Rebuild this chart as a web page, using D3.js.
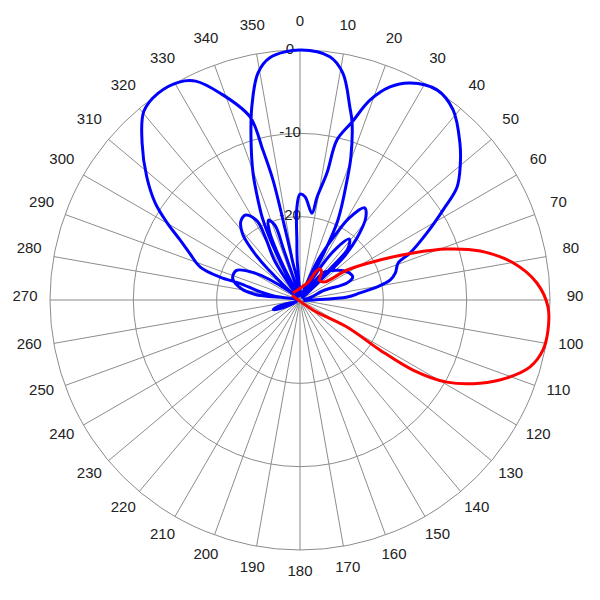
<!DOCTYPE html>
<html><head><meta charset="utf-8">
<script src="https://cdn.jsdelivr.net/npm/d3@7"></script>
<style>html,body{margin:0;padding:0;background:#fff;}</style>
</head><body>
<svg id="c" width="600" height="600"></svg>
<script>
const angleTicks = [0,10,20,30,40,50,60,70,80,90,100,110,120,130,140,150,160,170,
  180,190,200,210,220,230,240,250,260,270,280,290,300,310,320,330,340,350];
const ringTicks = [0,-10,-20];

// blue trace (angle deg clockwise from top, level dB), in drawing order
const blueAngle = [240,254,250,246,262,
  277,281,288,295,300,304,300,
  278,282,285.5,286,288.3,293,296.6,300.1,303.8,308.8,314.8,320.4,325.5,331,334.5,338.9,344.7,346.1,347.3,348,349,345,
  314,316.5,319,323,327.5,331.5,331,327,335,
  334,336,338.5,341.5,342,343,
  333,335.2,337.2,339.7,343,346,349.5,352.9,0,7,10.7,14.5,16.3,19.6,21.4,25.4,27,20,
  24,28,31,35,38.5,42.6,45.7,46,38,
  32,35,39,43,44,50,
  40.4,52,59.2,66.5,70.1,68,70,
  356,357,358,0,2.8,7.85,9.4,12,13,16.3,19.3,22.9,26.9,33.1,38.8,45.5,50,54.3,57.8,62.2,66.9,69.3,74.1,77.5,80.4,83.3,86.3,90,100];
const blueDb = [-29.6,-27.4,-26.6,-27.6,-29.6,
  -24.6,-22.8,-21.5,-21.6,-23.3,-25.6,-29.5,
  -27.5,-25,-22.5,-20,-17.4,-15.6,-13.9,-11.6,-9.1,-6.4,-3.3,-0.6,0.1,-0.1,-0.9,-3.4,-7.2,-11.5,-15.2,-20.2,-25,-29.5,
  -24.6,-21.5,-19.5,-18.2,-17.9,-19.2,-21.5,-24.5,-29.5,
  -25,-21,-19.7,-20.6,-23.5,-29.4,
  -24,-19.4,-17,-13.75,-9.9,-6.1,-2.3,-0.7,0,-0.6,-2.3,-6.1,-7.75,-11.8,-14.5,-19.4,-24,-29.5,
  -25,-21.6,-18.5,-16.5,-17.3,-19.9,-22.8,-26.2,-29.5,
  -25.5,-22.5,-20.6,-21.6,-24.5,-29.5,
  -25.7,-24.2,-23.4,-23.1,-24,-26.8,-29.5,
  -26,-22.8,-19,-17.3,-17.6,-19.5,-17.5,-14.4,-10.3,-7.75,-4.6,-2.25,-0.8,0.1,-0.7,-3.1,-4.9,-6.8,-9.7,-12.8,-15.65,-17.4,-18.1,-18.9,-20.6,-22.75,-24.3,-28.4,-29.6];

// red trace
const redAngle = [315,25,29,32,37,45,54,57.5,63.4,67.4,70.9,74.8,80.1,85.9,91.6,96.9,101.6,106.2,110.6,114.8,119.2,121.8,122,119.9,127.6,300];
const redDb = [-28.8,-27.6,-26.2,-25.6,-25.7,-26.7,-26.3,-23.3,-19.3,-15.3,-11.3,-7.6,-4.05,-1.5,-0.23,-0.02,-0.23,-1.25,-3.45,-6.2,-9.8,-14.05,-18.7,-23.5,-28,-28.9];

const cx = 300, cy = 300, R = 250;
const r = d3.scaleLinear().domain([-30, 0]).range([0, R]);
const a = d3.scaleLinear().domain([0, 360]).range([0, 2 * Math.PI]);

const svg = d3.select('#c');
const g = svg.append('g').attr('transform', `translate(${cx},${cy})`);

// spokes
g.selectAll('line.spoke').data(angleTicks).join('line').attr('class','spoke')
  .attr('x1', 0).attr('y1', 0)
  .attr('x2', d => R * Math.sin(a(d))).attr('y2', d => -R * Math.cos(a(d)))
  .attr('stroke', d => d % 90 === 0 ? '#c4c4c4' : '#8c8c8c')
  .attr('stroke-width', d => d % 90 === 0 ? 2 : 1);

// rings
g.selectAll('circle.ring').data(ringTicks).join('circle').attr('class','ring')
  .attr('r', d => r(d)).attr('fill', 'none')
  .attr('stroke', '#8c8c8c').attr('stroke-width', 1);

// angle labels
g.selectAll('text.ang').data(angleTicks).join('text').attr('class','ang')
  .attr('x', d => 275 * Math.sin(a(d)))
  .attr('y', d => -275 * Math.cos(a(d)) + 1)
  .attr('text-anchor', 'middle')
  .attr('font-family', 'Liberation Sans, Arial, sans-serif')
  .attr('font-size', 15).attr('fill', '#222')
  .text(d => d);

// radial labels
g.selectAll('text.rad').data(ringTicks).join('text').attr('class','rad')
  .attr('x', -10).attr('y', d => -r(d) + 3.5)
  .attr('text-anchor', 'middle')
  .attr('font-family', 'Liberation Sans, Arial, sans-serif')
  .attr('font-size', 15).attr('fill', '#222')
  .text(d => d);

const line = d3.lineRadial()
  .angle(d => a(d[0])).radius(d => r(d[1]))
  .curve(d3.curveCatmullRom.alpha(0.5));

const blue = blueAngle.map((v, i) => [v, blueDb[i]]);
const red = redAngle.map((v, i) => [v, redDb[i]]);

g.append('path').attr('d', line(blue)).attr('fill', 'none')
  .attr('stroke', '#0000ff').attr('stroke-width', 3).attr('stroke-linejoin', 'round');
g.append('path').attr('d', line(red)).attr('fill', 'none')
  .attr('stroke', '#ff0000').attr('stroke-width', 3).attr('stroke-linejoin', 'round');
</script>
</body></html>
